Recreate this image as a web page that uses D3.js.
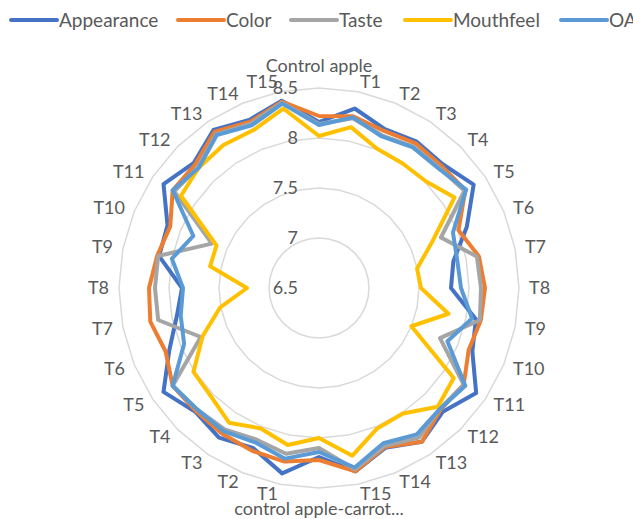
<!DOCTYPE html>
<html>
<head>
<meta charset="utf-8">
<script src="https://cdn.jsdelivr.net/npm/d3@7/dist/d3.min.js"></script>
<style>
  html, body { margin: 0; padding: 0; background: #fff; }
  svg { display: block; }
  text { font-family: Lato, "Open Sans", sans-serif; fill: #595959; }
</style>
</head>
<body>
<svg id="chart" width="633" height="519"></svg>
<script>
const categories = ["Control apple","T1","T2","T3","T4","T5","T6","T7","T8","T9","T10","T11","T12","T13","T14","T15",
  "control apple-carrot...","T1","T2","T3","T4","T5","T6","T7","T8","T9","T10","T11","T12","T13","T14","T15"];
const seriesNames = ["Appearance","Color","Taste","Mouthfeel","OA"];
const seriesColors = ["#4472C4","#ED7D31","#A5A5A5","#FFC000","#5B9BD5"];
const appearance = [8.16,8.33,8.22,8.26,8.25,8.36,8.10,7.87,7.82,8.10,8.16,8.39,8.25,8.35,8.23,8.37,8.19,8.39,8.23,8.30,8.25,8.37,8.12,7.95,7.87,8.13,8.14,8.37,8.27,8.40,8.32,8.41];
const color      = [8.22,8.25,8.20,8.24,8.23,8.26,8.01,8.13,8.16,8.15,8.12,8.24,8.22,8.35,8.22,8.37,8.22,8.27,8.26,8.25,8.24,8.26,8.16,8.22,8.20,8.15,8.11,8.26,8.25,8.38,8.30,8.40];
const taste      = [8.14,8.23,8.15,8.20,8.20,8.25,7.82,8.11,8.12,8.14,7.81,8.24,8.21,8.30,8.21,8.35,8.10,8.19,8.14,8.20,8.22,8.26,7.78,8.14,8.14,8.14,7.66,8.24,8.21,8.35,8.28,8.39];
const mouthfeel  = [8.02,8.14,8.01,8.00,8.01,8.13,7.73,7.50,7.52,7.82,7.50,8.12,8.18,8.01,8.02,8.21,8.00,8.10,8.02,8.12,8.03,8.01,7.76,7.51,7.22,7.61,7.61,8.16,8.20,8.22,8.21,8.33];
const oa         = [8.13,8.24,8.14,8.19,8.19,8.27,7.95,7.91,7.92,8.06,7.89,8.26,8.21,8.26,8.18,8.33,8.14,8.24,8.17,8.22,8.22,8.26,7.96,7.91,7.86,8.00,7.86,8.26,8.20,8.34,8.26,8.38];
const tickValues = [6.5, 7, 7.5, 8, 8.5];

const seriesValues = [appearance, color, taste, mouthfeel, oa];

const svg = d3.select("#chart");
const cx = 319, cy = 288;
const fs = 18;

const r = d3.scaleLinear().domain([6.5, 8.5]).range([0, 200]);
const angle = d3.scaleLinear().domain([0, categories.length]).range([0, 2 * Math.PI]);

const g = svg.append("g").attr("transform", `translate(${cx},${cy})`);

// gridlines (polygons through every category)
const gridLine = d3.lineRadial()
  .angle((d, i) => angle(i))
  .radius(d => r(d))
  .curve(d3.curveLinearClosed);
g.append("g").selectAll("path")
  .data(tickValues.slice(1))
  .join("path")
  .attr("d", v => gridLine(categories.map(() => v)))
  .attr("fill", "none")
  .attr("stroke", "#D9D9D9")
  .attr("stroke-width", 1.5);

// tick labels
g.append("g").selectAll("text")
  .data(tickValues)
  .join("text")
  .attr("x", -21)
  .attr("y", v => -r(v) + 6.3)
  .attr("text-anchor", "end")
  .style("font-size", fs + "px")
  .text(v => d3.format("")(v));

// category labels
const labelR = 210;
g.append("g").selectAll("text")
  .data(categories)
  .join("text")
  .each(function(d, i) {
    const a = angle(i);
    const s = Math.sin(a), c = Math.cos(a);
    const px = labelR * s, py = -labelR * c;
    const t = d3.select(this).style("font-size", fs + "px").text(d);
    if (Math.abs(s) < 1e-6) {
      t.attr("text-anchor", "middle").attr("x", px)
       .attr("y", c > 0 ? py - 6 : py + 17);
    } else {
      t.attr("text-anchor", s > 0 ? "start" : "end")
       .attr("x", px).attr("y", py + 6.3);
    }
  });

// series
const line = d3.lineRadial()
  .angle((d, i) => angle(i))
  .radius(d => r(d))
  .curve(d3.curveLinearClosed);
g.append("g").selectAll("path")
  .data(seriesValues)
  .join("path")
  .attr("d", d => line(d))
  .attr("fill", "none")
  .attr("stroke", (d, i) => seriesColors[i])
  .attr("stroke-width", 4)
  .attr("stroke-linejoin", "round");

// legend
const legendX = [11, 178, 291, 405, 561];
const leg = svg.append("g").selectAll("g")
  .data(seriesNames)
  .join("g")
  .attr("transform", (d, i) => `translate(${legendX[i]},20)`);
leg.append("line")
  .attr("x1", 0).attr("x2", 46).attr("y1", 0).attr("y2", 0)
  .attr("stroke", (d, i) => seriesColors[i])
  .attr("stroke-width", 4)
  .attr("stroke-linecap", "round");
leg.append("text")
  .attr("x", 48).attr("y", 6.8)
  .style("font-size", "19px")
  .text(d => d);
</script>
</body>
</html>
